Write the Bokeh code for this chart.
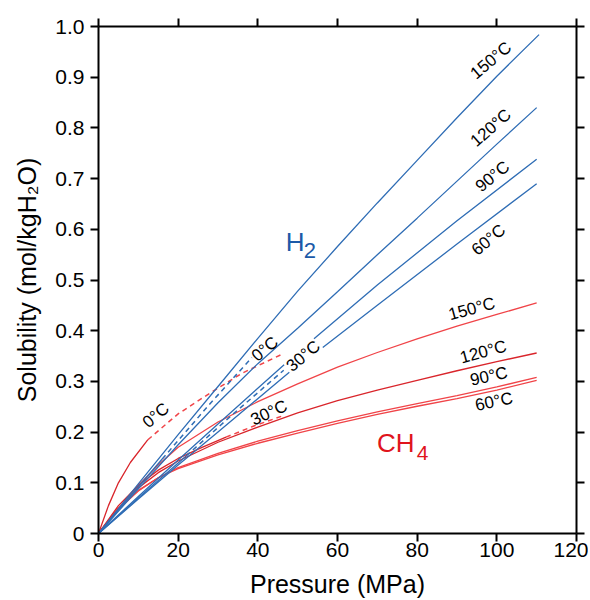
from bokeh.plotting import figure
from bokeh.models import Range1d, LinearAxis, FixedTicker, Label, ColumnDataSource
from bokeh.core.properties import value
from bokeh.embed import file_html
from bokeh.resources import INLINE

NAN = float("nan")

# ---------------- data ----------------
x_ticks = [0, 20, 40, 60, 80, 100, 120]
y_ticks = [0, 0.1, 0.2, 0.3, 0.4, 0.5, 0.6, 0.7, 0.8, 0.9, 1.0]
y_tick_labels = ["0", "0.1", "0.2", "0.3", "0.4", "0.5", "0.6", "0.7", "0.8", "0.9", "1.0"]

# H2 solubility (mol/kgH2O) vs pressure (MPa)
h2_150_x = [0, 10, 20, 30, 40, 50, 60, 70, 80, 90, 100, 110.6]
h2_150_y = [0, 0.098, 0.195, 0.29, 0.385, 0.478, 0.566, 0.652, 0.736, 0.82, 0.902, 0.984]
h2_120_x = [0, 10, 20, 30, 40, 50, 60, 70, 80, 90, 100, 110]
h2_120_y = [0, 0.088, 0.175, 0.258, 0.335, 0.405, 0.477, 0.55, 0.622, 0.695, 0.768, 0.84]
h2_90_x = [0, 10, 20, 30, 46.6, NAN, 54.1, 70, 90, 110]
h2_90_y = [0, 0.073, 0.145, 0.216, 0.333, NAN, 0.384, 0.49, 0.617, 0.738]
h2_60_x = [0, 10, 20, 30, 47.9, NAN, 56.3, 70, 90, 110]
h2_60_y = [0, 0.068, 0.135, 0.2, 0.318, NAN, 0.367, 0.45, 0.571, 0.69]
h2_0_x = [0, 8, 16]
h2_0_y = [0, 0.074, 0.147]
h2_0_dash_x = [16, 28, 38.5]
h2_0_dash_y = [0.147, 0.256, 0.347]
h2_30_x = [0, 10, 22]
h2_30_y = [0, 0.07, 0.153]
h2_30_dash_x = [22, 34, 46.5]
h2_30_dash_y = [0.153, 0.237, 0.322]

# CH4 solubility
ch4_150_x = [0, 5, 10, 15, 20, 30, 40, 50, 60, 70, 80, 90, 100, 110]
ch4_150_y = [0, 0.05, 0.095, 0.135, 0.17, 0.22, 0.26, 0.295, 0.328, 0.357, 0.384, 0.409, 0.432, 0.455]
ch4_120_x = [0, 5, 10, 15, 20, 30, 40, 50, 60, 70, 80, 90, 100, 110]
ch4_120_y = [0, 0.05, 0.09, 0.12, 0.143, 0.18, 0.21, 0.238, 0.262, 0.283, 0.302, 0.321, 0.339, 0.356]
ch4_90_x = [0, 5, 10, 15, 20, 30, 40, 50, 60, 70, 80, 90, 100, 110]
ch4_90_y = [0, 0.048, 0.084, 0.11, 0.13, 0.158, 0.182, 0.203, 0.222, 0.24, 0.256, 0.272, 0.289, 0.308]
ch4_60_x = [0, 5, 10, 15, 20, 30, 40, 50, 60, 70, 80, 90, 100, 110]
ch4_60_y = [0, 0.05, 0.085, 0.11, 0.128, 0.155, 0.178, 0.198, 0.217, 0.235, 0.251, 0.266, 0.283, 0.302]
ch4_0_x = [0, 2.5, 5, 8, 12.4]
ch4_0_y = [0, 0.055, 0.10, 0.14, 0.185]
ch4_0_dash_x = [12.4, 20, 28, 36, 46.2]
ch4_0_dash_y = [0.185, 0.236, 0.277, 0.316, 0.354]
ch4_30_x = [0, 5, 10, 15, 20, 26, 32]
ch4_30_y = [0, 0.055, 0.095, 0.125, 0.148, 0.17, 0.19]
ch4_30_dash_x = [32, 39, 46.2]
ch4_30_dash_y = [0.19, 0.212, 0.232]

# temperature labels
t_text = ["150°C", "120°C", "90°C", "60°C", "0°C", "30°C",
          "150°C", "120°C", "90°C", "60°C", "0°C", "30°C"]
t_x = [98.5, 98.5, 98.9, 97.9, 41.8, 51.4,
       93.7, 96.6, 98.0, 99.3, 14.4, 42.8]
t_y = [0.933, 0.80, 0.704, 0.579, 0.364, 0.35,
       0.443, 0.358, 0.31, 0.26, 0.233, 0.238]
t_angle = [40, 41, 39, 40, 40, 40,
           15, 15, 12, 12, 40, 25]

x_title = "Pressure (MPa)"
y_title = "Solubility (mol/kgH₂O)"

FONT = "Liberation Sans"
BLUE = "#2f6db5"
RED = "#f04448"
DARKRED = "#d9252b"

p = figure(width=588, height=600, x_range=Range1d(0, 120), y_range=Range1d(0, 1.0),
           output_backend="svg", toolbar_location=None,
           min_border_left=98, min_border_right=12, min_border_top=26, min_border_bottom=66)
p.xgrid.visible = False
p.ygrid.visible = False
p.outline_line_color = None
p.background_fill_color = "white"


def style_axis(ax, ticks, show_labels=True):
    ax.ticker = FixedTicker(ticks=ticks)
    ax.axis_line_width = 2
    ax.axis_line_color = "black"
    ax.major_tick_line_width = 2
    ax.major_tick_line_color = "black"
    ax.major_tick_out = 8
    ax.major_tick_in = 0
    ax.minor_tick_out = 0
    ax.minor_tick_in = 0
    ax.minor_tick_line_color = None
    ax.major_label_text_font = FONT
    ax.major_label_text_color = "black"
    ax.major_label_text_font_size = "21px"
    if not show_labels:
        ax.major_label_overrides = {t: "" for t in ticks}
        ax.major_label_standoff = 0


bx = p.below[0]
style_axis(bx, x_ticks)
bx.major_label_standoff = 1
bx.axis_label = x_title
bx.axis_label_text_font = FONT
bx.axis_label_text_font_size = "25px"
bx.axis_label_text_font_style = "normal"
bx.axis_label_text_color = "black"
bx.axis_label_text_line_height = 1.0
bx.axis_label_standoff = 10

ly = p.left[0]
style_axis(ly, y_ticks)
ly.major_label_standoff = 6
ly.major_label_overrides = {t: s for t, s in zip(y_ticks, y_tick_labels)}
ly.axis_label = y_title
ly.axis_label_text_font = FONT
ly.axis_label_text_font_size = "25px"
ly.axis_label_text_font_style = "normal"
ly.axis_label_text_color = "black"
ly.axis_label_standoff = 11

top = LinearAxis()
style_axis(top, x_ticks, show_labels=False)
p.add_layout(top, "above")
right = LinearAxis()
style_axis(right, y_ticks, show_labels=False)
p.add_layout(right, "right")

# CH4 lines (red)
lw = 1.3
p.line(ch4_60_x, ch4_60_y, line_color=RED, line_width=lw)
p.line(ch4_90_x, ch4_90_y, line_color=RED, line_width=lw)
p.line(ch4_120_x, ch4_120_y, line_color=DARKRED, line_width=lw)
p.line(ch4_150_x, ch4_150_y, line_color=RED, line_width=lw)
p.line(ch4_0_x, ch4_0_y, line_color=DARKRED, line_width=lw)
p.line(ch4_0_dash_x, ch4_0_dash_y, line_color=RED, line_width=lw + 0.2, line_dash="5 4")
p.line(ch4_30_x, ch4_30_y, line_color=DARKRED, line_width=lw)
p.line(ch4_30_dash_x, ch4_30_dash_y, line_color=RED, line_width=lw + 0.2, line_dash="5 4")

# H2 lines (blue)
p.line(h2_150_x, h2_150_y, line_color=BLUE, line_width=lw)
p.line(h2_120_x, h2_120_y, line_color=BLUE, line_width=lw)
p.line(h2_90_x, h2_90_y, line_color=BLUE, line_width=lw)
p.line(h2_60_x, h2_60_y, line_color=BLUE, line_width=lw)
p.line(h2_0_x, h2_0_y, line_color=BLUE, line_width=lw)
p.line(h2_0_dash_x, h2_0_dash_y, line_color=BLUE, line_width=lw + 0.2, line_dash="5 4")
p.line(h2_30_x, h2_30_y, line_color=BLUE, line_width=lw)
p.line(h2_30_dash_x, h2_30_dash_y, line_color=BLUE, line_width=lw + 0.2, line_dash="5 4")

# temperature labels
src = ColumnDataSource(dict(x=t_x, y=t_y, text=t_text, angle=t_angle))
p.text(x="x", y="y", text="text", angle="angle", angle_units="deg", source=src,
       text_font=value(FONT), text_font_size=value("17px"), text_color="black",
       text_align="center", text_baseline="middle")

# species labels
p.add_layout(Label(x=46.98, y=0.5754, text="H", text_font=FONT, text_font_size="26px",
                   text_color="#1c5aa8", text_align="left", text_baseline="alphabetic"))
p.add_layout(Label(x=51.52, y=0.559, text="2", text_font=FONT, text_font_size="22px",
                   text_color="#1c5aa8", text_align="left", text_baseline="alphabetic"))
p.add_layout(Label(x=69.9, y=0.1785, text="CH", text_font=FONT, text_font_size="26px",
                   text_color="#e0141c", text_align="left", text_baseline="alphabetic"))
p.add_layout(Label(x=79.9, y=0.1589, text="4", text_font=FONT, text_font_size="21px",
                   text_color="#e0141c", text_align="left", text_baseline="alphabetic"))

open("out.html", "w").write(file_html(p, INLINE))
